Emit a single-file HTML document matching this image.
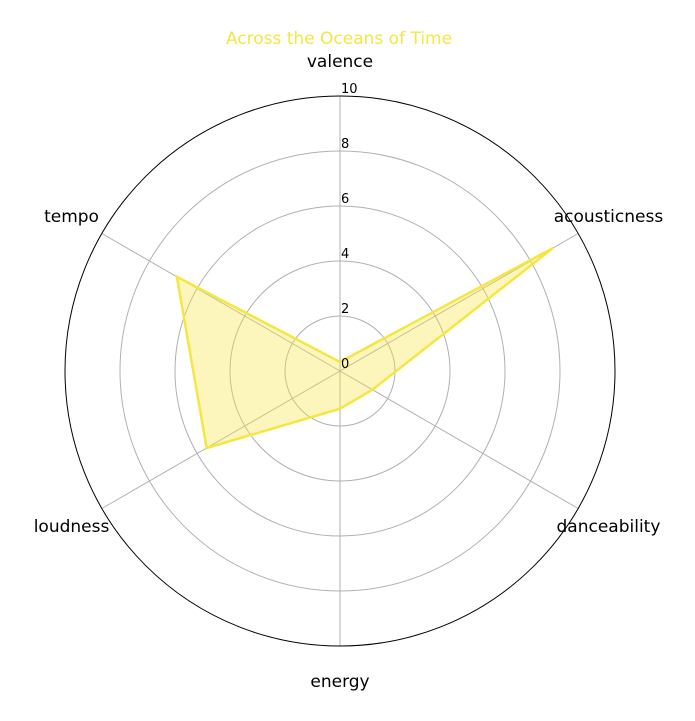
<!DOCTYPE html>
<html><head><meta charset="utf-8"><style>
body{margin:0;background:#fff;}
svg{display:block;font-family:"DejaVu Sans","Liberation Sans",sans-serif;}
</style></head><body>
<svg id="chart" width="695" height="721">
<text x="339" y="44" text-anchor="middle" font-size="17" fill="#f5e642">Across the Oceans of Time</text>
</svg>
<script>
const categories=["valence","acousticness","danceability","energy","loudness","tempo"];
const values=[0.33,8.95,1.36,1.37,5.6,6.85];
const tickLabels=["0","2","4","6","8","10"];
const ticks=[0,2,4,6,8,10];
const maxVal=10;
const cx=340,cy=371,R=275;
const svg=document.getElementById('chart');
const NS='http://www.w3.org/2000/svg';
function mk(t,a){const e=document.createElementNS(NS,t);for(const k in a)e.setAttribute(k,a[k]);svg.appendChild(e);return e;}
function rScale(v){return v/maxVal*R;}
function ang(i){return Math.PI/2-i*2*Math.PI/categories.length;}
function pt(i,v){const r=rScale(v),a=ang(i);return [cx+r*Math.cos(a),cy-r*Math.sin(a)];}
ticks.slice(1,-1).forEach(t=>{
 const c=mk('circle',{cx:cx,cy:cy,r:rScale(t),fill:'none',stroke:'#b0b0b0','stroke-width':1});
 
 
});
categories.forEach((c,i)=>{
 const [x,y]=pt(i,maxVal);
 const l=mk('line',{x1:cx,y1:cy,x2:x,y2:y,stroke:'#b0b0b0','stroke-width':1});
 
 
});
const poly=mk('polygon',{points:values.map((v,i)=>pt(i,v).join(',')).join(' '),fill:'rgba(245,230,66,0.35)',stroke:'#f5e642','stroke-width':2.5,'stroke-linejoin':'miter'});


const outer=mk('circle',{cx:cx,cy:cy,r:R,fill:'none',stroke:'#000','stroke-width':1});


ticks.forEach((t,i)=>{
 const tx=mk('text',{x:cx+1,y:cy-rScale(t)-3,'font-size':13,fill:'#000'});
 tx.textContent=tickLabels[i];
 
 
});
const labelR=310;
categories.forEach((c,i)=>{
 const a=ang(i);
 const x=cx+labelR*Math.cos(a);
 const y=cy-labelR*Math.sin(a)+6;
 const tx=mk('text',{x:x,y:y,'font-size':17,fill:'#000','text-anchor':'middle'});
 tx.textContent=c;
 
 
});
</script>
</body></html>
